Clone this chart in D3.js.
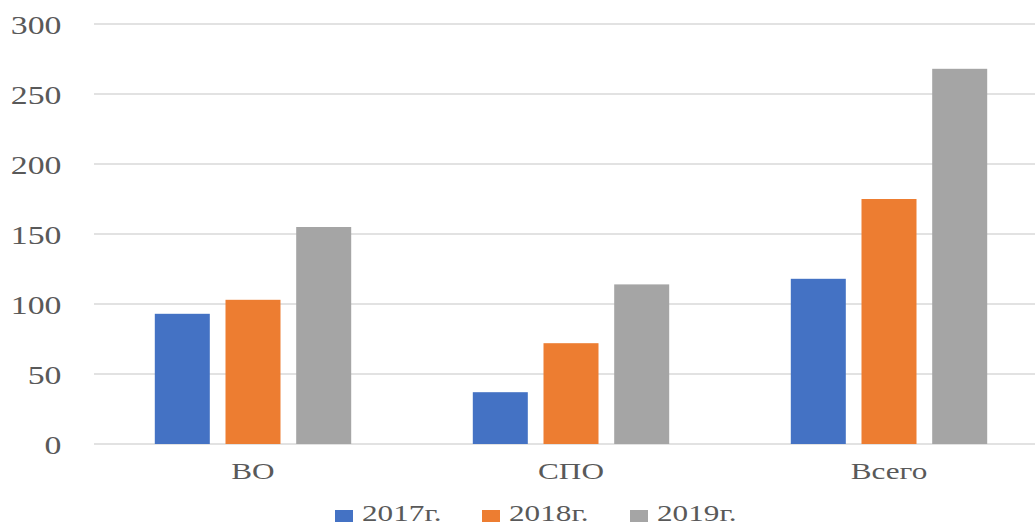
<!DOCTYPE html>
<html><head><meta charset="utf-8">
<script src="https://cdn.jsdelivr.net/npm/d3@7"></script>
<style>body{margin:0;background:#fff}svg{display:block}</style>
</head><body>
<svg id="c" width="1035" height="527"></svg>
<script>
const categories = ["ВО", "СПО", "Всего"];
const seriesNames = ["2017г.", "2018г.", "2019г."];
const s2017 = [93, 37, 118];
const s2018 = [103, 72, 175];
const s2019 = [155, 114, 268];
const yTicks = [0, 50, 100, 150, 200, 250, 300];
const colors = ["#4472C4", "#ED7D31", "#A5A5A5"];

const values = [s2017, s2018, s2019];
const SX = 1.3;
const FONT = "'Liberation Serif','Times New Roman',serif";
const TXT = "#595959";

const svg = d3.select("#c");
const x0 = d3.scaleBand().domain(categories).range([94, 1048]).paddingInner(0).paddingOuter(0);
const x1 = d3.scaleBand().domain(seriesNames).range([0, x0.bandwidth()]).paddingInner(0.222).paddingOuter(0.86);
const y = d3.scaleLinear().domain([0, 300]).range([444, 24]);

// gridlines
svg.append("g").selectAll("line").data(yTicks).join("line")
  .attr("x1", 94).attr("x2", 1035)
  .attr("y1", d => y(d)).attr("y2", d => y(d))
  .attr("stroke", "#d9d9d9").attr("stroke-width", 1.3);

// y axis labels
const yAxis = svg.append("g").attr("transform", "translate(94,0)")
  .call(d3.axisLeft(y).tickValues(yTicks).tickSize(0).tickFormat(d3.format("d")));
yAxis.select(".domain").remove();
yAxis.selectAll("text")
  .attr("x", -32.5 / SX).attr("dy", "0.35em")
  .attr("transform", `scale(${SX},1)`)
  .style("font-family", FONT).style("font-size", "26px").attr("fill", TXT);

// bars
const groups = svg.append("g").selectAll("g").data(categories).join("g")
  .attr("transform", d => `translate(${x0(d)},0)`);
groups.selectAll("rect").data((c, ci) => seriesNames.map((s, si) => ({s, si, v: values[si][ci]})))
  .join("rect")
  .attr("x", d => x1(d.s)).attr("width", x1.bandwidth())
  .attr("y", d => y(d.v)).attr("height", d => y(0) - y(d.v))
  .attr("fill", d => colors[d.si]);

// x labels
const xAxis = svg.append("g").attr("transform", "translate(0,444)")
  .call(d3.axisBottom(x0).tickSize(0));
xAxis.select(".domain").remove();
xAxis.selectAll(".tick").each(function(d) {
  const cx = x0(d) + x0.bandwidth() / 2;
  d3.select(this).attr("transform", null).select("text")
    .attr("x", cx / SX).attr("y", 35).attr("dy", 0)
    .attr("text-anchor", "middle")
    .attr("transform", `scale(${SX},1)`)
    .style("font-family", FONT).style("font-size", "24px").attr("fill", TXT);
});

// legend
const legendX = [335, 482, 630];
const leg = svg.append("g").selectAll("g").data(seriesNames).join("g")
  .attr("transform", (d, i) => `translate(${legendX[i]},0)`);
leg.append("rect").attr("x", 0).attr("y", 510).attr("width", 18).attr("height", 12)
  .attr("fill", (d, i) => colors[i]);
leg.append("text").text(d => d)
  .attr("x", 27 / SX).attr("y", 521)
  .attr("transform", `scale(${SX},1)`)
  .style("font-family", FONT).style("font-size", "24px").attr("fill", TXT);
</script>
</body></html>
